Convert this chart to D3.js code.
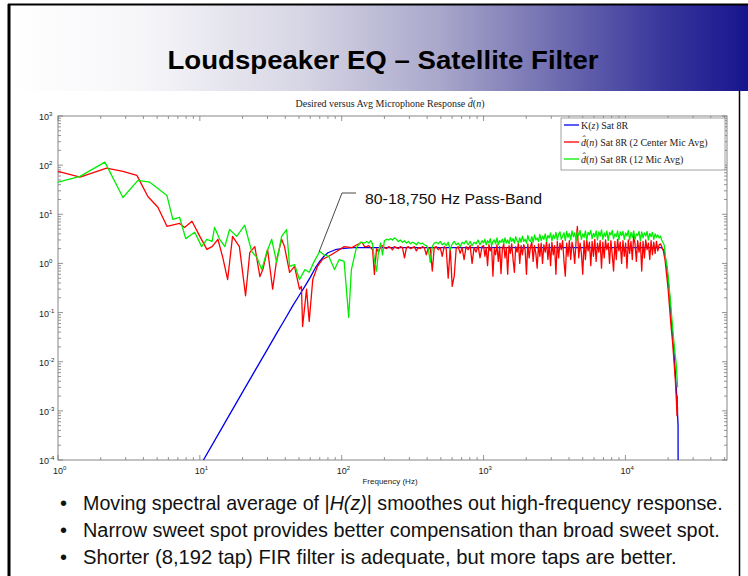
<!DOCTYPE html>
<html>
<head>
<meta charset="utf-8">
<script src="https://cdn.jsdelivr.net/npm/d3@7"></script>
<style>
body { margin: 0; background: #fff; }
text { font-family: "Liberation Sans", Arial, sans-serif; }
.tex { font-family: "Liberation Serif", "Times New Roman", serif; }
</style>
</head>
<body>
<div id="vis"></div>
<script>
// tick values
let xTicks = [1, 10, 100, 1000, 10000]
let yTicks = [1e-4, 1e-3, 1e-2, 1e-1, 1, 10, 100, 1000]

// K(z) Sat 8R
let kFreq = [10.6, 15, 20, 25, 30, 35, 40, 45, 50, 55, 60, 65, 70, 75, 80, 90, 100, 120, 150, 1000, 10000, 18000, 18750, 19500, 20300, 21000, 22000, 23000, 23500, 23550]
let kMag = [1e-4, 5.7e-4, 2.4e-3, 7.3e-3, 1.8e-2, 3.9e-2, 7.5e-2, 0.135, 0.22, 0.34, 0.52, 0.8, 1.1, 1.4, 1.65, 1.9, 2.0, 2.1, 2.1, 2.1, 2.1, 2.1, 1.8, 0.9, 0.3, 0.08, 0.015, 0.002, 5e-4, 1e-6]

// low-frequency readings
let redFreqLow = [1.0, 1.43, 2.2, 2.87, 3.6, 4.3, 5.06, 5.86, 7.2, 7.8, 8.8, 10, 11.2, 12.2, 13.4, 14.5, 15.7, 17, 19, 21, 22.5, 24.4, 26.5, 27.8, 30, 32.6, 34.8, 37.7, 39.5, 42.9, 46.5, 50.4, 52, 53, 56.5, 59, 62.5, 67.5, 73, 81, 92, 104, 118, 128, 139, 145]
let redMagLow = [75, 57, 87, 75, 62, 23, 13.9, 5.7, 6.5, 5.4, 7.2, 3.55, 1.93, 2.2, 3.1, 1.33, 0.47, 3.55, 2.2, 0.22, 1.68, 2.2, 0.54, 0.75, 1.93, 0.3, 1.2, 3.1, 2.2, 0.66, 0.87, 0.3, 0.34, 0.052, 0.3, 0.066, 0.47, 0.87, 1.2, 1.4, 1.75, 2.2, 2.1, 2.4, 2.7, 2.2]

let greenFreqLow = [1.0, 1.43, 2.14, 2.87, 3.66, 4.44, 5.86, 6.45, 7.2, 7.95, 9.2, 10.3, 11.2, 12.2, 12.7, 13.8, 15, 16.2, 18.2, 20.7, 23.2, 25.2, 27.3, 29.6, 32.1, 34.8, 37.7, 40.9, 42.9, 46.5, 50.4, 55, 59, 64, 70, 75, 81, 89, 96, 104, 112, 117, 127, 136, 144]
let greenMagLow = [45, 59, 115, 22, 49, 45, 24, 7.9, 8.7, 3.2, 4.3, 2.2, 3.1, 2.8, 5.4, 3.1, 2.2, 4.9, 3.55, 6, 1.75, 1.33, 0.75, 1.68, 3.1, 1.05, 3.55, 4.9, 0.87, 0.95, 0.47, 0.75, 0.66, 1.1, 1.75, 1.5, 1.4, 0.75, 1.2, 1.1, 0.08, 0.75, 2.1, 2.7, 2.6]

// pass-band readings, 150 Hz - 1 kHz
let midFreq = [150, 155, 160, 165, 170, 176, 182, 188, 194, 200, 207, 214, 221, 228, 235, 243, 251, 259, 268, 277,
  286, 295, 305, 315, 325, 336, 347, 358, 370, 382, 395, 408, 421, 435, 449, 464, 479, 495, 511, 528,
  545, 563, 582, 601, 621, 641, 662, 684, 706, 729, 753, 778, 804, 830, 857, 885, 914, 944, 975]
let redMid = [2.2, 2.3, 2.1, 1.9, 0.6, 2.0, 1.7, 2.2, 2.3, 2.1, 2.0, 2.2, 2.1, 1.9, 2.2, 2.1, 2.0, 2.2, 2.1, 1.3,
  2.1, 2.2, 2.0, 2.1, 2.2, 1.8, 2.1, 2.0, 2.2, 2.1, 1.5, 2.1, 2.0, 0.7, 2.1, 2.2, 1.9, 2.1, 1.4, 2.2,
  2.0, 0.5, 2.1, 0.34, 0.55, 2.0, 2.2, 1.6, 2.1, 1.2, 2.2, 1.9, 2.3, 1.0, 2.1, 1.7, 2.3, 1.3, 2.2]
let greenMid = [2.8, 2.6, 2.9, 2.5, 1.2, 0.7, 1.8, 2.6, 1.5, 2.9, 3.1, 3.0, 3.2, 3.0, 3.3, 3.1, 2.8, 3.0, 2.7, 2.9,
  2.6, 2.8, 2.5, 2.7, 2.6, 2.4, 2.7, 2.5, 2.6, 2.4, 2.3, 2.0, 1.05, 2.2, 2.6, 2.7, 2.5, 2.8, 2.4, 2.6,
  2.3, 2.7, 1.9, 2.5, 2.8, 2.4, 2.6, 2.2, 2.7, 2.5, 2.9, 2.4, 2.8, 2.3, 2.7, 2.5, 3.0, 2.4, 2.9]

// pass-band readings, 1 kHz - 17.7 kHz
let highFreq = [1000, 1022, 1044, 1067, 1091, 1115, 1139, 1164, 1190, 1216, 1243, 1270, 1298, 1327, 1356, 1386, 1416, 1447, 1479,
  1512, 1545, 1579, 1614, 1649, 1685, 1722, 1760, 1799, 1839, 1879, 1920, 1963, 2006, 2050, 2095, 2141, 2188, 2236, 2285, 2336, 2387, 2440, 2493,
  2548, 2604, 2661, 2720, 2780, 2841, 2903, 2967, 3032, 3099, 3167, 3237, 3308, 3381, 3455, 3531, 3609, 3688, 3769, 3852, 3937,
  4023, 4112, 4202, 4295, 4389, 4486, 4584, 4685, 4788, 4893, 5001, 5111, 5223, 5338, 5455, 5575, 5698, 5823, 5951, 6082, 6216, 6353,
  6492, 6635, 6781, 6930, 7083, 7239, 7398, 7561, 7727, 7897, 8071, 8248, 8430, 8615, 8805, 8998, 9196, 9399, 9605, 9817, 10033,
  10254, 10479, 10710, 10945, 11186, 11432, 11684, 11941, 12203, 12472, 12746, 13027, 13313, 13606, 13905, 14211, 14524, 14844, 15170, 15504, 15845, 16194, 16550, 16914, 17286]
let redHigh = [2.3, 1.4, 2.1, 0.9, 2.4, 1.8, 2.2, 0.55, 2.0, 1.5, 2.4, 1.1, 2.2, 0.62, 1.9, 2.5, 1.3, 2.1, 0.6,
  2.3, 1.6, 2.5, 1.2, 0.66, 2.2, 1.7, 2.6, 1.0, 2.3, 1.5, 2.4, 1.9, 0.6, 2.5, 1.3, 2.2, 2.7, 1.1, 2.3, 1.6, 0.8, 2.5, 1.4,
  2.6, 1.0, 2.4, 1.7, 2.8, 1.2, 2.5, 0.9, 2.7, 1.5, 2.3, 0.6, 2.8, 1.3, 2.6, 1.9, 2.9, 1.1, 0.55, 2.6, 1.4,
  2.9, 1.2, 2.7, 2.0, 1.0, 2.8, 5.7, 1.3, 2.6, 1.6, 0.6, 2.9, 1.2, 3.0, 1.8, 2.7, 0.9, 2.8, 1.4, 3.1, 1.1, 2.6,
  1.7, 2.9, 0.8, 2.7, 1.3, 3.0, 1.9, 2.6, 1.0, 2.9, 1.5, 0.7, 2.8, 1.2, 3.1, 1.8, 2.7, 1.0, 2.9, 1.4, 2.6,
  0.8, 3.0, 1.6, 2.8, 1.2, 3.8, 2.5, 1.1, 2.9, 1.7, 2.7, 0.7, 2.8, 1.3, 3.0, 1.9, 2.6, 1.2, 2.9, 1.5, 2.7, 1.6, 2.8, 1.8, 2.4]
let greenHigh = [2.6, 3.1, 2.4, 2.9, 2.6, 3.2, 2.3, 2.8, 3.0, 2.5, 3.3, 2.4, 2.9, 2.7, 3.1, 2.5, 3.3, 2.6, 3.0,
  2.5, 3.4, 2.8, 3.2, 2.6, 3.5, 2.9, 2.6, 3.3, 2.7, 3.6, 2.8, 3.1, 2.6, 3.7, 3.0, 2.8, 3.5, 2.7, 3.8, 3.0, 3.3, 2.8, 3.9,
  2.9, 3.6, 3.1, 4.0, 2.8, 3.7, 3.3, 4.2, 2.9, 3.8, 3.2, 4.3, 3.0, 3.9, 4.4, 3.1, 3.6, 4.2, 2.9, 4.5, 3.4,
  4.1, 3.0, 4.6, 3.5, 4.2, 2.9, 4.4, 3.7, 4.7, 3.1, 4.0, 3.4, 4.6, 3.0, 4.3, 3.8, 4.7, 3.2, 4.1, 3.5, 4.6, 3.0,
  4.4, 3.6, 4.8, 3.1, 4.2, 3.5, 4.6, 2.9, 4.3, 3.8, 4.7, 3.2, 4.0, 3.5, 4.6, 3.0, 4.4, 3.7, 4.5, 3.1, 4.2,
  3.6, 4.7, 3.0, 4.3, 3.4, 4.6, 3.1, 4.0, 3.7, 4.5, 2.9, 4.4, 3.3, 4.2, 3.6, 4.5, 3.0, 4.1, 3.5, 4.3, 3.1, 4.0, 3.4, 3.8, 3.3]

// roll-off readings
let redFreqDrop = [17666, 18000, 18500, 19000, 19500, 20000, 20500, 21000, 21500, 22000, 22500, 22900, 23100, 23200, 23250, 23300]
let redMagDrop = [2.5, 2.2, 1.8, 1.2, 0.6, 0.3, 0.12, 0.05, 0.025, 0.01, 0.004, 0.0015, 0.0008, 0.002, 0.0009, 0.0012]
let greenFreqDrop = [17666, 18000, 18750, 19200, 19800, 20300, 20800, 21300, 21800, 22300, 22800, 23200, 23300]
let greenMagDrop = [3.6, 3.0, 2.4, 1.3, 0.75, 0.35, 0.16, 0.07, 0.032, 0.016, 0.009, 0.004, 0.003]

let bullets = [
  ["Moving spectral average of |", "H(z)", "| smoothes out high-frequency response."],
  ["Narrow sweet spot provides better compensation than broad sweet spot."],
  ["Shorter (8,192 tap) FIR filter is adequate, but more taps are better."]
]
let bulletWidths = [640, 637, 594]

let zip = (f, m) => f.map((v, i) => [v, m[i]])
let kData = zip(kFreq, kMag)
let redData = zip(redFreqLow.concat(midFreq, highFreq, redFreqDrop), redMagLow.concat(redMid, redHigh, redMagDrop))
let greenData = zip(greenFreqLow.concat(midFreq, highFreq, greenFreqDrop), greenMagLow.concat(greenMid, greenHigh, greenMagDrop))

let svg = d3.select("#vis").append("svg")
    .attr("width", 748)
    .attr("height", 576)

let defs = svg.append("defs")
let grad = defs.append("linearGradient").attr("id", "hdr")
grad.selectAll("stop")
    .data([[0, "#ffffff"], [0.18, "#f6f6f9"], [0.4, "#d6d5e4"], [0.58, "#aaa8cb"], [0.74, "#6f6db0"], [0.88, "#3a389c"], [1, "#17158d"]])
    .join("stop")
    .attr("offset", d => d[0])
    .attr("stop-color", d => d[1])

defs.append("clipPath").attr("id", "plotclip")
    .append("rect").attr("x", 58).attr("y", 116).attr("width", 669).attr("height", 344)

// slide frame
svg.append("rect").attr("x", 10).attr("y", 5).attr("width", 738).attr("height", 86).attr("fill", "url(#hdr)")
svg.append("line").attr("x1", 8).attr("x2", 748).attr("y1", 4.5).attr("y2", 4.5).attr("stroke", "#000").attr("stroke-width", 2)
svg.append("line").attr("x1", 9).attr("x2", 9).attr("y1", 4).attr("y2", 576).attr("stroke", "#000").attr("stroke-width", 3)
svg.append("line").attr("x1", 739.5).attr("x2", 739.5).attr("y1", 91).attr("y2", 576).attr("stroke", "#000").attr("stroke-width", 1.5)

svg.append("text")
    .attr("x", 383).attr("y", 69)
    .attr("text-anchor", "middle")
    .attr("font-size", 25).attr("font-weight", "bold")
    .attr("textLength", 431).attr("lengthAdjust", "spacingAndGlyphs")
    .text("Loudspeaker EQ \u2013 Satellite Filter")

let x = d3.scaleLog().domain([1, 52000]).range([58, 727])
let y = d3.scaleLog().domain([1e-4, 1e3]).range([460, 116])

let g = svg.append("g")

// axes box and inward ticks
let isMajor = t => Math.abs(Math.log10(t) - Math.round(Math.log10(t))) < 1e-9
let tk = g.append("g").attr("stroke", "#7a7a7a").attr("stroke-width", 0.8)
tk.selectAll(".xt")
    .data(x.ticks())
    .join("path")
    .attr("class", "xt")
    .attr("d", d => {
        let len = isMajor(d) ? 5 : 3
        let px = x(d)
        return `M${px},460 v${-len} M${px},116 v${len}`
    })
tk.selectAll(".yt")
    .data(y.ticks())
    .join("path")
    .attr("class", "yt")
    .attr("d", d => {
        let len = isMajor(d) ? 5 : 3
        let py = y(d)
        return `M58,${py} h${len} M727,${py} h${-len}`
    })
g.append("rect")
    .attr("x", 58).attr("y", 116).attr("width", 669).attr("height", 344)
    .attr("fill", "none").attr("stroke", "#7a7a7a").attr("stroke-width", 0.9)

// tick labels
let powerLabel = function(d) {
    let t = d3.select(this)
    t.append("tspan").text("10")
    t.append("tspan").attr("dy", -4).attr("font-size", 6).text(Math.round(Math.log10(d)))
}
g.append("g").attr("font-size", 9).attr("fill", "#222")
    .selectAll("text")
    .data(xTicks)
    .join("text")
    .attr("x", d => x(d) - 5)
    .attr("y", 474)
    .each(powerLabel)

g.append("g").attr("font-size", 9).attr("fill", "#222")
    .selectAll("text")
    .data(yTicks)
    .join("text")
    .attr("x", 39)
    .attr("y", d => y(d) + 4)
    .each(powerLabel)

// series
let line = d3.line().x(d => x(d[0])).y(d => y(d[1]))
let plot = g.append("g").attr("clip-path", "url(#plotclip)").attr("fill", "none").attr("stroke-linejoin", "round")
plot.append("path").datum(kData).attr("d", line).attr("stroke", "#0000ee").attr("stroke-width", 1.3)
plot.append("path").datum(redData).attr("d", line).attr("stroke", "#ff0000").attr("stroke-width", 1.3)
plot.append("path").datum(greenData).attr("d", line).attr("stroke", "#00ee00").attr("stroke-width", 1.3)

// titles
svg.append("text").attr("class", "tex")
    .attr("x", 390).attr("y", 107)
    .attr("text-anchor", "middle").attr("font-size", 10).attr("fill", "#222")
    .html("Desired versus Avg Microphone Response <tspan font-style='italic'>d\u0302</tspan>(<tspan font-style='italic'>n</tspan>)")

svg.append("text")
    .attr("x", 390).attr("y", 484)
    .attr("text-anchor", "middle").attr("font-size", 8).attr("fill", "#222")
    .text("Frequency (Hz)")

// legend
let leg = svg.append("g")
leg.append("rect")
    .attr("x", 561).attr("y", 118).attr("width", 164).attr("height", 52)
    .attr("fill", "#fff").attr("stroke", "#8a8a8a").attr("stroke-width", 0.8)
let legItems = [
    ["#0000ee", "K(<tspan font-style='italic'>z</tspan>) Sat 8R"],
    ["#ff0000", "<tspan font-style='italic'>d\u0302</tspan>(<tspan font-style='italic'>n</tspan>) Sat 8R (2 Center Mic Avg)"],
    ["#00ee00", "<tspan font-style='italic'>d\u0302</tspan>(<tspan font-style='italic'>n</tspan>) Sat 8R (12 Mic Avg)"]
]
leg.selectAll("line")
    .data(legItems)
    .join("line")
    .attr("x1", 564).attr("x2", 579)
    .attr("y1", (d, i) => 125 + i * 17).attr("y2", (d, i) => 125 + i * 17)
    .attr("stroke", d => d[0]).attr("stroke-width", 1.3)
leg.selectAll("text")
    .data(legItems)
    .join("text")
    .attr("class", "tex")
    .attr("x", 581).attr("y", (d, i) => 128.5 + i * 17)
    .attr("font-size", 10).attr("fill", "#222")
    .html(d => d[1])

// annotation
svg.append("path")
    .attr("d", "M319,252 L342,193 L356,193")
    .attr("fill", "none").attr("stroke", "#333").attr("stroke-width", 0.9)
svg.append("text")
    .attr("x", 365).attr("y", 204)
    .attr("font-size", 15.5).attr("fill", "#111")
    .attr("textLength", 177).attr("lengthAdjust", "spacingAndGlyphs")
    .text("80-18,750 Hz Pass-Band")

// bullet points
let bl = svg.append("g").attr("font-size", 20).attr("fill", "#111")
bl.selectAll(".dot")
    .data(bullets)
    .join("text")
    .attr("class", "dot")
    .attr("x", 60).attr("y", (d, i) => 510 + i * 27)
    .text("\u2022")
bl.selectAll(".line")
    .data(bullets)
    .join("text")
    .attr("class", "line")
    .each(function(d) {
        let t = d3.select(this)
        d.forEach((s, j) => t.append("tspan").attr("font-style", j === 1 ? "italic" : null).text(s))
    })
    .attr("transform", function(d, i) {
        let s = bulletWidths[i] / this.getComputedTextLength()
        return `translate(83,${510 + i * 27}) scale(${s},1)`
    })
</script>
</body>
</html>
